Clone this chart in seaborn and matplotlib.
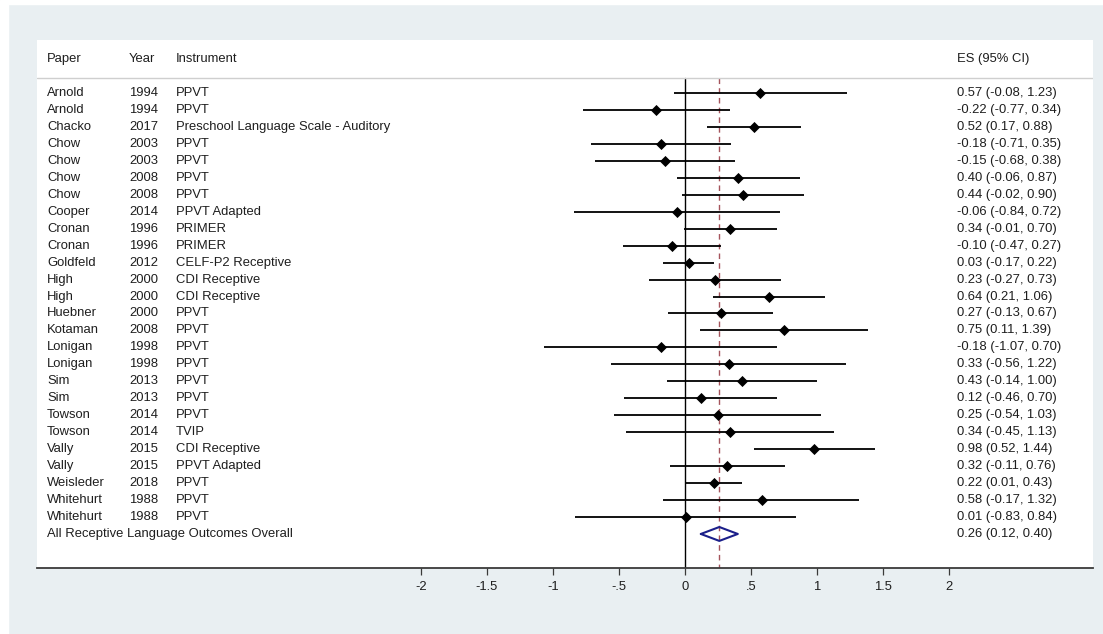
import numpy as np
import pandas as pd
import matplotlib
matplotlib.use("Agg")
import matplotlib.pyplot as plt
import matplotlib.transforms as mtransforms
from matplotlib.patches import Rectangle
import seaborn as sns

# ---- data ----
PAPERS = ["Arnold", "Arnold", "Chacko", "Chow", "Chow", "Chow", "Chow", "Cooper",
          "Cronan", "Cronan", "Goldfeld", "High", "High", "Huebner", "Kotaman",
          "Lonigan", "Lonigan", "Sim", "Sim", "Towson", "Towson", "Vally", "Vally",
          "Weisleder", "Whitehurt", "Whitehurt"]
YEARS = [1994, 1994, 2017, 2003, 2003, 2008, 2008, 2014, 1996, 1996, 2012, 2000, 2000,
         2000, 2008, 1998, 1998, 2013, 2013, 2014, 2014, 2015, 2015, 2018, 1988, 1988]
INSTRUMENTS = ["PPVT", "PPVT", "Preschool Language Scale - Auditory", "PPVT", "PPVT",
               "PPVT", "PPVT", "PPVT Adapted", "PRIMER", "PRIMER", "CELF-P2 Receptive",
               "CDI Receptive", "CDI Receptive", "PPVT", "PPVT", "PPVT", "PPVT", "PPVT",
               "PPVT", "PPVT", "TVIP", "CDI Receptive", "PPVT Adapted", "PPVT", "PPVT", "PPVT"]
ES = [0.57, -0.22, 0.52, -0.18, -0.15, 0.40, 0.44, -0.06, 0.34, -0.10, 0.03, 0.23, 0.64,
      0.27, 0.75, -0.18, 0.33, 0.43, 0.12, 0.25, 0.34, 0.98, 0.32, 0.22, 0.58, 0.01]
LO = [-0.08, -0.77, 0.17, -0.71, -0.68, -0.06, -0.02, -0.84, -0.01, -0.47, -0.17, -0.27,
      0.21, -0.13, 0.11, -1.07, -0.56, -0.14, -0.46, -0.54, -0.45, 0.52, -0.11, 0.01,
      -0.17, -0.83]
HI = [1.23, 0.34, 0.88, 0.35, 0.38, 0.87, 0.90, 0.72, 0.70, 0.27, 0.22, 0.73, 1.06, 0.67,
      1.39, 0.70, 1.22, 1.00, 0.70, 1.03, 1.13, 1.44, 0.76, 0.43, 1.32, 0.84]
OVERALL_LABEL = "All Receptive Language Outcomes Overall"
OVERALL = (0.26, 0.12, 0.40)
XTICKS = [-2, -1.5, -1, -0.5, 0, 0.5, 1, 1.5, 2]
XTICK_LABELS = ["-2", "-1.5", "-1", "-.5", "0", ".5", "1", "1.5", "2"]

df = pd.DataFrame({"paper": PAPERS, "year": YEARS, "instrument": INSTRUMENTS,
                   "es": ES, "lo": LO, "hi": HI})
df["row"] = np.arange(len(df))
n = len(df)

sns.set_theme(style="white")
plt.rcParams["font.family"] = ["Liberation Sans", "DejaVu Sans"]

BG = "#e9eff2"
TXT = "#1e1e1e"
FS = 9.4
fig = plt.figure(figsize=(11.03, 6.34), dpi=100, facecolor=BG)
# thin white margin top / left like the screenshot
fig.patches.append(Rectangle((0, 1 - 4 / 634), 1, 4 / 634, transform=fig.transFigure,
                             color="white", zorder=-1))
fig.patches.append(Rectangle((0, 0), 8 / 1103, 1, transform=fig.transFigure,
                             color="white", zorder=-1))

W, H = 1103, 634
ax = fig.add_axes([37 / W, 1 - 568 / H, (1093 - 37) / W, (568 - 40) / H])
ax.set_facecolor("white")

x0, ppu = 685, 132.0
ax.set_xlim((37 - x0) / ppu, (1093 - x0) / ppu)
row_h = 16.96
ax.set_ylim((568 - 93) / row_h, (40 - 93) / row_h)
header_y = (59 - 93) / row_h
hline_y = (78 - 93) / row_h

# confidence intervals
ax.hlines(df["row"], df["lo"], df["hi"], color="black", lw=1.3, zorder=2)
sns.scatterplot(data=df, x="es", y="row", marker="D", s=32, color="black",
                edgecolor="black", linewidth=0, ax=ax, zorder=3, legend=False)

# overall diamond
oes, olo, ohi = OVERALL
oy = n
dh = 0.41
ax.plot([olo, oes, ohi, oes, olo], [oy, oy - dh, oy, oy + dh, oy],
        color="#1b1f8a", lw=1.5, zorder=3)

# reference lines
ax.plot([0, 0], [hline_y, ax.get_ylim()[0]], color="black", lw=1.0, zorder=1)
ax.plot([oes, oes], [hline_y, ax.get_ylim()[0]], color="#a5545c", lw=1.0,
        ls=(0, (4, 3)), zorder=1)
ax.axhline(hline_y, color="#cfcfcf", lw=1.0)

# text columns
tr = mtransforms.blended_transform_factory(ax.transAxes, ax.transData)
cols = {"paper": 10 / 1056, "year": 92 / 1056, "instrument": 139 / 1056, "es": 920 / 1056}
kw = dict(transform=tr, fontsize=FS, va="center", color=TXT)
ax.text(cols["paper"], header_y, "Paper", **kw)
ax.text(cols["year"], header_y, "Year", **kw)
ax.text(cols["instrument"], header_y, "Instrument", **kw)
ax.text(cols["es"], header_y, "ES (95% CI)", **kw)
for _, r in df.iterrows():
    ax.text(cols["paper"], r["row"], r["paper"], **kw)
    ax.text(cols["year"], r["row"], str(r["year"]), **kw)
    ax.text(cols["instrument"], r["row"], r["instrument"], **kw)
    ax.text(cols["es"], r["row"], f"{r['es']:.2f} ({r['lo']:.2f}, {r['hi']:.2f})", **kw)
ax.text(cols["paper"], oy, OVERALL_LABEL, **kw)
ax.text(cols["es"], oy, f"{oes:.2f} ({olo:.2f}, {ohi:.2f})", **kw)

# axes styling
for s in ["top", "left", "right"]:
    ax.spines[s].set_visible(False)
ax.spines["bottom"].set_color("#3a3a3a")
ax.spines["bottom"].set_linewidth(1.3)
ax.set_yticks([])
ax.set_xticks(XTICKS)
ax.set_xticklabels(XTICK_LABELS, fontsize=FS, color=TXT)
ax.tick_params(axis="x", direction="out", length=5, width=0.9, color="#3a3a3a",
               pad=4, bottom=True)
ax.set_xlabel("")
ax.set_ylabel("")

fig.savefig("out.png", dpi=100, facecolor=BG)
